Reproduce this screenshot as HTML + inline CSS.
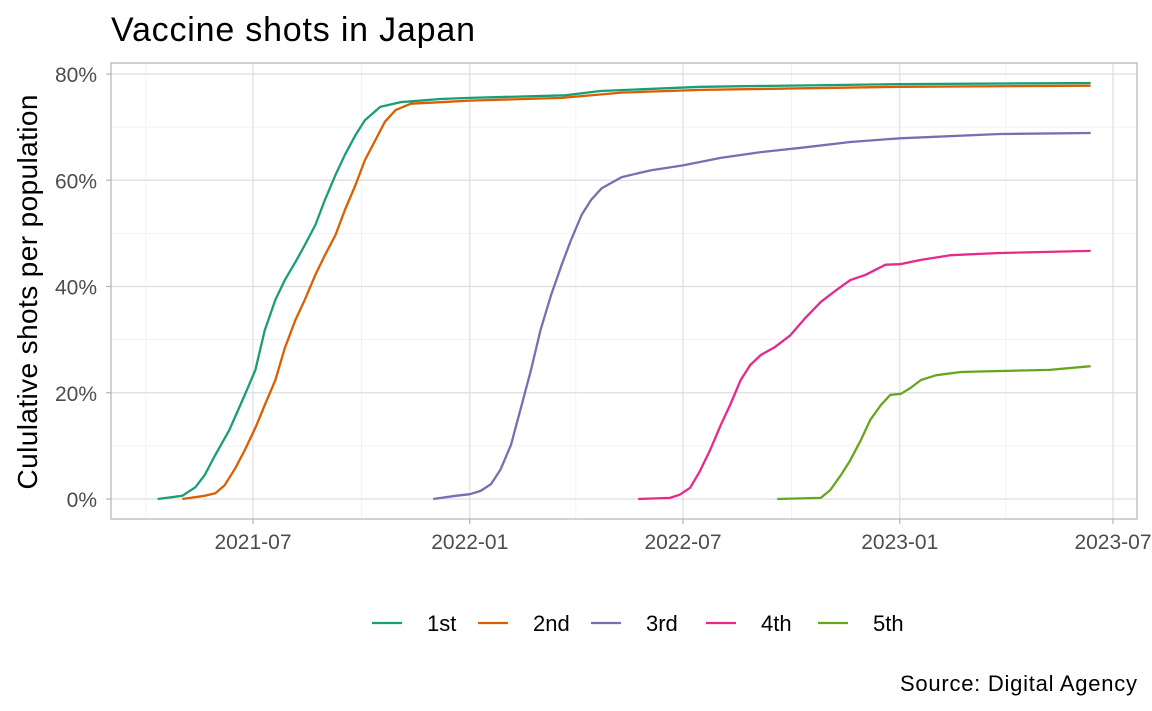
<!DOCTYPE html>
<html><head><meta charset="utf-8"><style>
html,body{margin:0;padding:0;background:#fff;}
svg{display:block;font-family:"Liberation Sans",sans-serif;}
</style></head><body>
<svg id="chart" width="1152" height="711" viewBox="0 0 1152 711">
<text x="111" y="41" font-size="34" textLength="364" fill="#000">Vaccine shots in Japan</text>
<text transform="translate(37,292) rotate(-90)" text-anchor="middle" font-size="28" textLength="395" fill="#000">Cululative shots per population</text>
<text x="1137" y="691" text-anchor="end" font-size="22" textLength="237" fill="#000">Source: Digital Agency</text>
<g id="grid"></g><g id="series"></g><g id="axes"></g><g id="legend"></g>
</svg>
<script>
const seriesNames=["1st","2nd","3rd","4th","5th"];
const seriesColors=["#1B9E77","#D95F02","#7570B3","#E7298A","#66A61E"];
const dates1=["2021-04-11","2021-05-02","2021-05-13","2021-05-21","2021-05-30","2021-06-11","2021-06-24","2021-07-03","2021-07-11","2021-07-20","2021-07-28","2021-08-06","2021-08-14","2021-08-23","2021-08-31","2021-09-09","2021-09-17","2021-09-26","2021-10-04","2021-10-17","2021-11-03","2021-12-07","2022-01-01","2022-03-23","2022-04-22","2022-07-16","2023-01-01","2023-06-12"];
const values1=[0,0.6,2.2,4.5,8.3,13,19.6,24.3,31.8,37.5,41.2,44.6,47.8,51.6,56.3,61,64.8,68.5,71.3,73.8,74.7,75.3,75.5,76,76.8,77.6,78.1,78.3];
const dates2=["2021-05-02","2021-05-21","2021-05-30","2021-06-07","2021-06-16","2021-06-24","2021-07-03","2021-07-11","2021-07-20","2021-07-28","2021-08-06","2021-08-14","2021-08-23","2021-08-31","2021-09-09","2021-09-17","2021-09-26","2021-10-04","2021-10-13","2021-10-21","2021-10-30","2021-11-12","2021-12-07","2022-01-01","2022-03-20","2022-05-10","2022-07-16","2023-01-01","2023-06-12"];
const values2=[0,0.6,1.1,2.6,5.8,9.2,13.4,17.7,22.4,28.4,33.7,37.5,42.2,45.9,49.7,54.4,59.1,63.8,67.6,71,73.2,74.4,74.7,75,75.5,76.5,77,77.6,77.8];
const dates3=["2021-12-01","2021-12-20","2022-01-01","2022-01-10","2022-01-19","2022-01-27","2022-02-05","2022-02-13","2022-02-22","2022-03-02","2022-03-11","2022-03-20","2022-03-28","2022-04-06","2022-04-14","2022-04-23","2022-05-10","2022-06-04","2022-07-01","2022-08-02","2022-09-05","2022-10-09","2022-11-20","2023-01-01","2023-03-27","2023-06-12"];
const values3=[0,0.6,0.9,1.5,2.8,5.5,10.2,16.8,24.3,31.8,38.4,44.1,48.8,53.5,56.3,58.5,60.6,61.9,62.8,64.2,65.3,66.1,67.2,67.9,68.7,68.9];
const dates4=["2022-05-24","2022-06-20","2022-06-28","2022-07-07","2022-07-15","2022-07-24","2022-08-02","2022-08-10","2022-08-19","2022-08-27","2022-09-05","2022-09-17","2022-09-30","2022-10-13","2022-10-26","2022-11-08","2022-11-20","2022-12-03","2022-12-20","2023-01-01","2023-01-19","2023-02-13","2023-03-27","2023-06-12"];
const values4=[0,0.2,0.8,2.1,5.1,9.2,13.9,17.7,22.4,25.2,27.1,28.6,30.8,34.1,37.1,39.3,41.2,42.2,44.1,44.2,45,45.9,46.3,46.7];
const dates5=["2022-09-19","2022-10-26","2022-11-03","2022-11-12","2022-11-20","2022-11-29","2022-12-07","2022-12-16","2022-12-24","2023-01-02","2023-01-10","2023-01-19","2023-02-01","2023-02-22","2023-03-27","2023-05-08","2023-06-12"];
const values5=[0,0.2,1.7,4.5,7.3,11.1,14.9,17.7,19.6,19.8,20.9,22.4,23.3,23.9,24.1,24.3,25];
const xTickLabels=["2021-07","2022-01","2022-07","2023-01","2023-07"];
const xMinorTicks=["2021-04","2021-10","2022-04","2022-10","2023-04"];
const yTicks=[0,20,40,60,80];
const yMinorTicks=[10,30,50,70];

const NS="http://www.w3.org/2000/svg";
const P={l:111,r:1137,t:63,b:519};
const d0=Date.parse("2021-07-01"),d1=Date.parse("2023-07-01");
function xs(s){const d=Date.parse(s.length===7?s+"-01":s);return 253+(d-d0)/(d1-d0)*(1113-253);}
function ys(v){return 499-v*(499-74)/80;}
function mk(tag,attrs,parent){const e=document.createElementNS(NS,tag);for(const k in attrs)e.setAttribute(k,attrs[k]);parent.appendChild(e);return e;}
const grid=document.getElementById("grid"),ser=document.getElementById("series"),axes=document.getElementById("axes"),leg=document.getElementById("legend");
let el=mk("rect",{x:P.l,y:P.t,width:P.r-P.l,height:P.b-P.t,fill:"#fff"},grid);


yMinorTicks.forEach(v=>{const l=mk("line",{x1:P.l,x2:P.r,y1:ys(v),y2:ys(v),stroke:"#efefef","stroke-width":0.8},grid);

});
xMinorTicks.forEach(s=>{const l=mk("line",{x1:xs(s),x2:xs(s),y1:P.t,y2:P.b,stroke:"#efefef","stroke-width":0.8},grid);

});
yTicks.forEach(v=>{const y=ys(v);
const l=mk("line",{x1:P.l,x2:P.r,y1:y,y2:y,stroke:"#dedede","stroke-width":1.2},grid);


const t=mk("line",{x1:P.l-5,x2:P.l,y1:y,y2:y,stroke:"#b3b3b3","stroke-width":1.2},axes);


const tx=mk("text",{x:97,y:y+8,"text-anchor":"end","font-size":21,fill:"#4d4d4d"},axes);tx.textContent=v+"%";

});
xTickLabels.forEach(s=>{const x=xs(s);
const l=mk("line",{x1:x,x2:x,y1:P.t,y2:P.b,stroke:"#dedede","stroke-width":1.2},grid);


const t=mk("line",{x1:x,x2:x,y1:P.b,y2:P.b+5,stroke:"#b3b3b3","stroke-width":1.2},axes);


const tx=mk("text",{x:x,y:P.b+30,"text-anchor":"middle","font-size":21,fill:"#4d4d4d"},axes);tx.textContent=s;

});
el=mk("rect",{x:P.l,y:P.t,width:P.r-P.l,height:P.b-P.t,fill:"none",stroke:"#b3b3b3","stroke-width":1.2},axes);


const allD=[dates1,dates2,dates3,dates4,dates5],allV=[values1,values2,values3,values4,values5];
allD.forEach((ds,i)=>{const pts=ds.map((s,j)=>xs(s).toFixed(1)+","+ys(allV[i][j]).toFixed(1)).join(" ");
const pl=mk("polyline",{points:pts,fill:"none",stroke:seriesColors[i],"stroke-width":2.3,"stroke-linejoin":"round"},ser);

});
const legX=[372,478,591,706,818];
seriesNames.forEach((n,i)=>{const g=mk("g",{},leg);


mk("line",{x1:legX[i],x2:legX[i]+30,y1:623,y2:623,stroke:seriesColors[i],"stroke-width":2.3},g);
const t=mk("text",{x:legX[i]+55,y:631,"font-size":22,fill:"#000"},g);t.textContent=n;});
</script>
</body></html>
